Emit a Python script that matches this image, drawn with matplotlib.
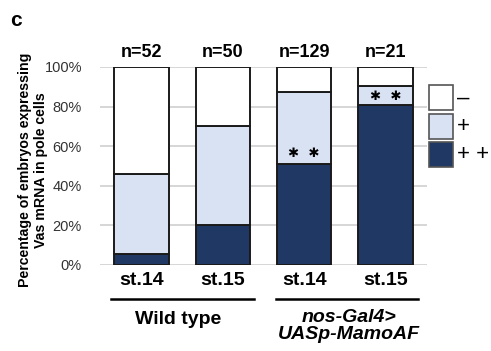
import matplotlib
matplotlib.use("Agg")
import matplotlib.pyplot as plt
from matplotlib.patches import Rectangle
import numpy as np

plt.rcParams['font.family'] = ['Liberation Sans', 'DejaVu Sans']

stages = ["st.14", "st.15", "st.14", "st.15"]
n_labels = ["n=52", "n=50", "n=129", "n=21"]
plus_plus = [5.8, 20.0, 51.2, 81.0]
plus = [40.4, 50.0, 36.4, 9.5]
minus = [53.8, 30.0, 12.4, 9.5]
groups = ["Wild type", "nos-Gal4>\nUASp-MamoAF"]
yticks = [0, 20, 40, 60, 80, 100]
legend_labels = ["\u2013", "+", "+ +"]

dark = "#1F3864"
light = "#D9E2F3"
white = "#FFFFFF"
edge = "#1a1a1a"

fig = plt.figure(figsize=(4.91, 3.51), dpi=100)
ax = fig.add_axes([100/491, 1-265/351, 327/491, 198/351])
x = np.arange(len(stages))
w = 0.67
pp = np.array(plus_plus); p = np.array(plus); m = np.array(minus)
ax.bar(x, pp, w, color=dark, edgecolor=edge, linewidth=1.4, zorder=3)
ax.bar(x, p, w, bottom=pp, color=light, edgecolor=edge, linewidth=1.4, zorder=3)
ax.bar(x, m, w, bottom=pp+p, color=white, edgecolor=edge, linewidth=1.4, zorder=3)

ax.set_xlim(-0.51, 3.51)
ax.set_ylim(0, 100)
ax.set_yticks(yticks)
ax.set_yticklabels([f"{t}%" for t in yticks], fontsize=10.5, color="#333333")
ax.tick_params(axis='y', length=0, pad=13)
ax.tick_params(axis='x', length=0)
ax.set_xticks(x)
ax.set_xticklabels(stages, fontsize=14, fontweight='bold')
ax.tick_params(axis='x', pad=5)
for s in ax.spines.values():
    s.set_visible(False)
ax.yaxis.grid(True, color="#d0d0d0", linewidth=1.2, zorder=0)
ax.set_axisbelow(True)

def fx(px): return px/491
def fy(py): return 1-py/351

fig.text(fx(33), fy(170), "Percentage of embryos expressing\nVas mRNA in pole cells",
         rotation=90, ha='center', va='center', fontsize=10.2, fontweight='bold',
         linespacing=1.1, multialignment='center')

for xi, lab in zip(x, n_labels):
    ax.text(xi, 103, lab, ha='center', va='bottom', fontsize=13, fontweight='bold')

# significance marks
ax.text(x[2], pp[2] + 2.0, "\u2731  \u2731", ha='center', va='bottom', fontsize=9.5,
        family=['DejaVu Sans'], fontweight='bold')
ax.text(x[3], pp[3] + 1.0, "\u2731  \u2731", ha='center', va='bottom', fontsize=9.5,
        family=['DejaVu Sans'], fontweight='bold')

# group lines and labels (figure coords)
fig.add_artist(plt.Line2D([fx(111), fx(254)], [fy(299), fy(299)], color='black', lw=1.8))
fig.add_artist(plt.Line2D([fx(276), fx(418)], [fy(299), fy(299)], color='black', lw=1.8))
fig.text(fx(178), fy(320), groups[0], ha='center', va='center', fontsize=14, fontweight='bold')
fig.text(fx(349), fy(326), groups[1], ha='center', va='center', fontsize=14,
         fontweight='bold', style='italic', linespacing=1.05)

# legend
box_colors = [white, light, dark]
box_tops = [85, 114, 142]
for c, t, lab in zip(box_colors, box_tops, legend_labels):
    fig.add_artist(Rectangle((fx(429), fy(t+25)), 24/491, 25/351, facecolor=c,
                             edgecolor="#555555", lw=1.2, transform=fig.transFigure))
    fig.text(fx(457), fy(t+13), lab, ha='left', va='center', fontsize=16)

fig.text(fx(10), fy(20), "c", ha='left', va='center', fontsize=15, fontweight='bold')

fig.savefig("out.png", dpi=100)
